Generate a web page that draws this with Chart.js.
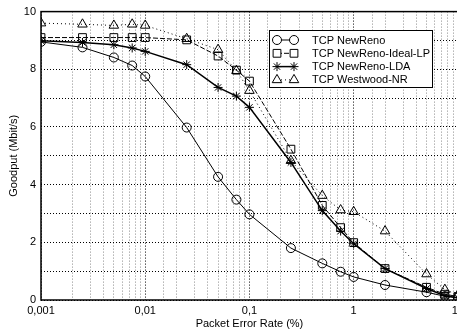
<!DOCTYPE html>
<html>
<head>
<meta charset="utf-8">
<script src="https://cdn.jsdelivr.net/npm/chart.js@4/dist/chart.umd.min.js"></script>
<style>
  html, body { margin: 0; padding: 0; background: #fff; overflow: hidden; }
  #wrap { width: 468px; height: 333px; }
</style>
</head>
<body>
<div id="wrap"><canvas id="goodput" width="468" height="333"></canvas></div>
<script>
// packet error rate (%)
const per = [0.001, 0.0025, 0.005, 0.0075, 0.01, 0.025, 0.05, 0.075, 0.1, 0.25, 0.5, 0.75, 1, 2, 5, 7.5, 10];

// goodput (Mbit/s)
const newReno  = [8.95, 8.76, 8.41, 8.13, 7.75, 5.98, 4.27, 3.48, 2.97, 1.80, 1.27, 0.98, 0.80, 0.52, 0.27, 0.13, 0.08];
const idealLP  = [9.10, 9.10, 9.10, 9.10, 9.10, 9.02, 8.46, 7.97, 7.59, 5.23, 3.28, 2.51, 1.99, 1.09, 0.44, 0.20, 0.12];
const lda      = [8.99, 8.93, 8.85, 8.74, 8.62, 8.16, 7.37, 7.07, 6.68, 4.77, 3.10, 2.39, 1.95, 1.09, 0.40, 0.15, 0.08];
const westwood = [9.60, 9.56, 9.52, 9.56, 9.52, 9.06, 8.68, 7.95, 7.26, 4.83, 3.62, 3.12, 3.06, 2.39, 0.90, 0.36, 0.18];

const seriesNames = ['TCP NewReno', 'TCP NewReno-Ideal-LP', 'TCP NewReno-LDA', 'TCP Westwood-NR'];
const yTicks = [0, 2, 4, 6, 8, 10];

const FONT = 'Liberation Sans, Arial, sans-serif';

function pts(arr) {
    return per.map((x, i) => ({x: x, y: arr[i]}));
}

function isDecade(v) {
    let l = Math.log10(v);
    return Math.abs(l - Math.round(l)) < 1e-6;
}

function decadeLabel(v) {
    let e = Math.round(Math.log10(v));
    if (e >= 0) return String(Math.pow(10, e));
    return '0,' + '0'.repeat(-e - 1) + '1';
}

const base = {
    borderColor: '#000',
    backgroundColor: 'rgba(0,0,0,0)',
    pointBorderColor: '#000',
    pointBackgroundColor: 'rgba(0,0,0,0)',
    pointBorderWidth: 1,
    tension: 0
};

// frame around the plot + legend box with line samples
const framePlugin = {
    id: 'frame',
    afterDraw(chart) {
        let ctx = chart.ctx;
        let a = chart.chartArea;
        ctx.save();
        ctx.strokeStyle = '#000';
        ctx.lineWidth = 1.5;
        ctx.setLineDash([]);
        ctx.strokeRect(a.left, a.top, a.right - a.left, a.bottom - a.top);

        // legend
        let bx = 269.5, by = 30.5, bw = 163, bh = 57;
        ctx.fillStyle = '#fff';
        ctx.fillRect(bx, by, bw, bh);
        ctx.lineWidth = 1;
        ctx.strokeRect(bx, by, bw, bh);
        chart.data.datasets.forEach((ds, i) => {
            let y = 40 + i * 13.3;
            let x1 = 277, x2 = 294;
            ctx.strokeStyle = '#000';
            ctx.lineWidth = ds.borderWidth;
            ctx.setLineDash(ds.borderDash || []);
            ctx.beginPath();
            ctx.moveTo(x1, y);
            ctx.lineTo(x2, y);
            ctx.stroke();
            ctx.setLineDash([]);
            ctx.lineWidth = 1;
            ctx.fillStyle = '#fff';
            let o = {pointStyle: ds.pointStyle, radius: ds.pointRadius, borderWidth: 1, rotation: 0};
            Chart.helpers.drawPoint(ctx, o, x1, y);
            Chart.helpers.drawPoint(ctx, o, x2, y);
            ctx.fillStyle = '#000';
            ctx.font = '11px ' + FONT;
            ctx.textBaseline = 'middle';
            ctx.textAlign = 'left';
            ctx.fillText(ds.label, 312, y + 0.5);
        });
        ctx.restore();
    }
};

const chart = new Chart(
    document.getElementById('goodput'),
    {
        type: 'line',
        data: {
            datasets: [
                Object.assign({}, base, {
                    label: seriesNames[0],
                    data: pts(newReno),
                    borderWidth: 1,
                    pointStyle: 'circle',
                    pointRadius: 4.5
                }),
                Object.assign({}, base, {
                    label: seriesNames[1],
                    data: pts(idealLP),
                    borderWidth: 1,
                    borderDash: [5, 2],
                    pointStyle: 'rect',
                    pointRadius: 5.5
                }),
                Object.assign({}, base, {
                    label: seriesNames[2],
                    data: pts(lda),
                    borderWidth: 1.5,
                    pointStyle: 'star',
                    pointRadius: 4.5
                }),
                Object.assign({}, base, {
                    label: seriesNames[3],
                    data: pts(westwood),
                    borderWidth: 1,
                    borderDash: [1, 3],
                    pointStyle: 'triangle',
                    pointRadius: 5.5
                })
            ]
        },
        options: {
            responsive: false,
            animation: false,
            devicePixelRatio: 1,
            layout: { padding: { top: 10, right: 6, left: 0, bottom: 0 } },
            plugins: {
                legend: { display: false },
                tooltip: { enabled: false }
            },
            scales: {
                x: {
                    type: 'logarithmic',
                    min: 0.001,
                    max: 10,
                    border: { display: false, dash: [1, 2] },
                    grid: {
                        drawTicks: false,
                        lineWidth: 1,
                        color: c => (c.tick && isDecade(c.tick.value)) ? '#000' : '#8a8a8a'
                    },
                    ticks: {
                        autoSkip: false,
                        maxRotation: 0,
                        padding: 4,
                        color: '#000',
                        font: { family: FONT, size: 11 },
                        callback: v => isDecade(v) ? decadeLabel(v) : ''
                    },
                    title: {
                        display: true,
                        text: 'Packet Error Rate (%)',
                        color: '#000',
                        font: { family: FONT, size: 11 },
                        padding: { top: 0, bottom: 2 }
                    },
                    afterFit: s => { s.height = 33; }
                },
                y: {
                    min: 0,
                    max: 10,
                    border: { display: false, dash: [1, 2] },
                    grid: {
                        drawTicks: false,
                        lineWidth: 1,
                        color: '#000'
                    },
                    ticks: {
                        stepSize: 1,
                        padding: 5,
                        color: '#000',
                        font: { family: FONT, size: 11 },
                        callback: v => yTicks.includes(v) ? String(v) : ''
                    },
                    title: {
                        display: true,
                        text: 'Goodput (Mbit/s)',
                        color: '#000',
                        font: { family: FONT, size: 11 },
                        padding: { top: 7, bottom: 0 }
                    },
                    afterFit: s => { s.width = 41; }
                }
            }
        },
        plugins: [framePlugin]
    }
);
</script>
</body>
</html>
